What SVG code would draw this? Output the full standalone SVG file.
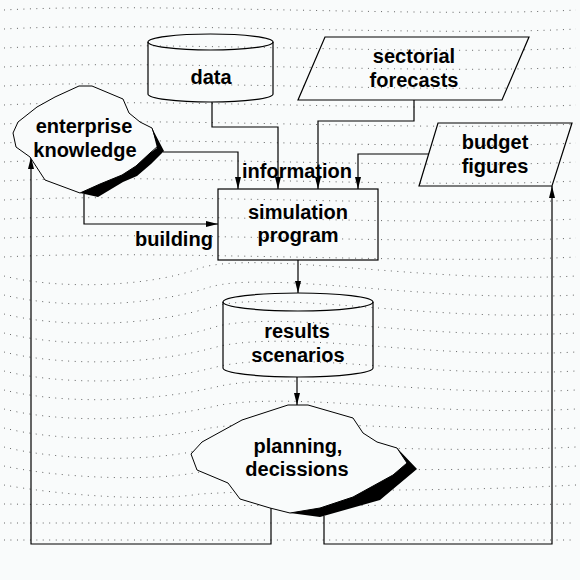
<svg xmlns="http://www.w3.org/2000/svg" width="580" height="580" viewBox="0 0 580 580">
<style>
.bg{fill:#f9fbfb}
.dots{fill:none;stroke:#000;stroke-width:1;stroke-dasharray:1 5.5;opacity:0.6}
.sh{fill:none;stroke:#000;stroke-width:1.2}
.blob{fill:#f9fbfb;stroke:#000;stroke-width:1}
.shadow{fill:#000;stroke:none}
.ln{fill:none;stroke:#000;stroke-width:1.2}
.t{font-family:"Liberation Sans",Arial,Helvetica,sans-serif;font-weight:bold;font-size:20px;fill:#000;text-anchor:middle}
</style>
<defs>
<marker id="ah" viewBox="0 0 12 6" refX="12" refY="3" markerWidth="12" markerHeight="6" markerUnits="userSpaceOnUse" orient="auto">
<path d="M0,0 L12,3 L0,6 z" fill="#000"/>
</marker>
</defs>
<rect class="bg" x="0" y="0" width="580" height="580"/>
<g id="background-dots">
<path class="dots" d="M4,10 C150,2 430,18 576,10"/>
<path class="dots" d="M4,29 C150,21 430,37 576,29"/>
<path class="dots" d="M4,48 C150,40 430,56 576,48"/>
<path class="dots" d="M4,67 C150,59 430,75 576,67"/>
<path class="dots" d="M4,86 C150,78 430,94 576,86"/>
<path class="dots" d="M4,105 C150,97 430,113 576,105"/>
<path class="dots" d="M4,124 C150,116 430,132 576,124"/>
<path class="dots" d="M4,143 C150,135 430,151 576,143"/>
<path class="dots" d="M4,162 C150,154 430,170 576,162"/>
<path class="dots" d="M4,181 C150,173 430,189 576,181"/>
<path class="dots" d="M4,200 C150,192 430,208 576,200"/>
<path class="dots" d="M4,219 C150,211 430,227 576,219"/>
<path class="dots" d="M4,238 C150,230 430,246 576,238"/>
<path class="dots" d="M4,257 C150,249 430,265 576,257"/>
<path class="dots" d="M4,276 C60,290 150,287 200,268 C260,250 430,284 576,276"/>
<path class="dots" d="M4,295 C60,309 150,307 210,287 C270,270 430,303 576,295"/>
<path class="dots" d="M4,314 C60,328 150,327 215,306 C280,290 430,322 576,314"/>
<path class="dots" d="M4,333 C60,347 150,348 218,326 C290,310 430,341 576,333"/>
<path class="dots" d="M4,352 C60,366 150,366 220,346 C300,330 430,360 576,352"/>
<path class="dots" d="M4,371 C60,385 150,385 220,366 C300,350 430,379 576,371"/>
<path class="dots" d="M4,390 C60,404 150,403 220,386 C300,370 430,398 576,390"/>
<path class="dots" d="M4,409 C60,423 150,422 220,405 C300,392 430,417 576,409"/>
<path class="dots" d="M4,428 C60,442 150,442 210,428 C300,415 430,436 576,428"/>
<path class="dots" d="M4,447 C60,461 150,462 200,450 C300,440 430,455 576,447"/>
<path class="dots" d="M4,466 C60,478 150,482 200,472 C300,465 430,474 576,466"/>
<path class="dots" d="M4,485 C60,495 150,502 200,494 C300,488 430,493 576,485"/>
<path class="dots" d="M4,504 C150,506 430,506 576,504"/>
<path class="dots" d="M4,523 C150,523 430,523 576,523"/>
<path class="dots" d="M4,540 C150,540 430,540 576,540"/>
</g>
<g id="connectors">
<path class="ln" d="M212,102 V127 H278 V189" marker-end="url(#ah)"/>
<path class="ln" d="M414,100 V121 H318 V189" marker-end="url(#ah)"/>
<path class="ln" d="M429,154 H358 V189" marker-end="url(#ah)"/>
<path class="ln" d="M163,152 H238 V189" marker-end="url(#ah)"/>
<path class="ln" d="M84,194 V224 H218" marker-end="url(#ah)"/>
<path class="ln" d="M298,260 V293" marker-end="url(#ah)"/>
<path class="ln" d="M297,377 V405" marker-end="url(#ah)"/>
<path class="ln" d="M271,508 V544 H31 V157" marker-end="url(#ah)"/>
<path class="ln" d="M324,516 V544 H552 V186" marker-end="url(#ah)"/>
</g>
<g id="data">
<path class="sh" d="M148,42 V94 A62.5,8 0 0 0 273,94 V42"/>
<ellipse class="sh" cx="210.5" cy="42" rx="62.5" ry="8"/>
<text class="t" x="211" y="84">data</text>
</g>
<g id="sectorial-forecasts">
<polygon class="sh" points="325,37 529,37 502,100 298,100"/>
<text class="t" x="414" y="63">sectorial</text>
<text class="t" x="414" y="87">forecasts</text>
</g>
<g id="budget-figures">
<polygon class="sh" points="438,123 572,123 552,186 419,186"/>
<text class="t" x="495" y="149">budget</text>
<text class="t" x="495" y="173">figures</text>
</g>
<g id="enterprise-knowledge">
<polygon class="blob" points="79,86 92,86 123,99 129,113 140,122 152,128 158,146 150,153 136,166 122,175 100,184 80,193 45,180 30,157 16,147 13,133 18,122 37,107 55,97"/>
<polygon class="shadow" points="152,128 164,151 151,164 137,176 123,182 98,197 80,193 100,184 122,175 136,166 150,153 157,148"/>
<text class="t" x="84" y="133">enterprise</text>
<text class="t" x="85" y="157">knowledge</text>
</g>
<g id="simulation-program">
<rect class="sh" x="218" y="189" width="160" height="71"/>
<text class="t" x="298" y="219">simulation</text>
<text class="t" x="298" y="242">program</text>
</g>
<g id="results-scenarios">
<path class="sh" d="M223,302 V368 A75,9 0 0 0 373,368 V302"/>
<ellipse class="sh" cx="298" cy="302" rx="75" ry="9"/>
<text class="t" x="297" y="338">results</text>
<text class="t" x="298" y="362">scenarios</text>
</g>
<g id="planning-decissions">
<polygon class="blob" points="288,405 308,405 353,418 363,433 377,442 397,448 407,463 393,475 353,497 320,508 290,513 270,508 240,499 228,483 197,470 191,454 202,442 242,420"/>
<polygon class="shadow" points="397,448 417,469 380,500 320,517 290,513 320,508 353,497 393,475 407,463"/>
<text class="t" x="298" y="453">planning,</text>
<text class="t" x="297" y="476">decissions</text>
</g>
<g id="labels">
<text class="t" x="297" y="178">information</text>
<text class="t" x="174" y="246">building</text>
</g>
</svg>
